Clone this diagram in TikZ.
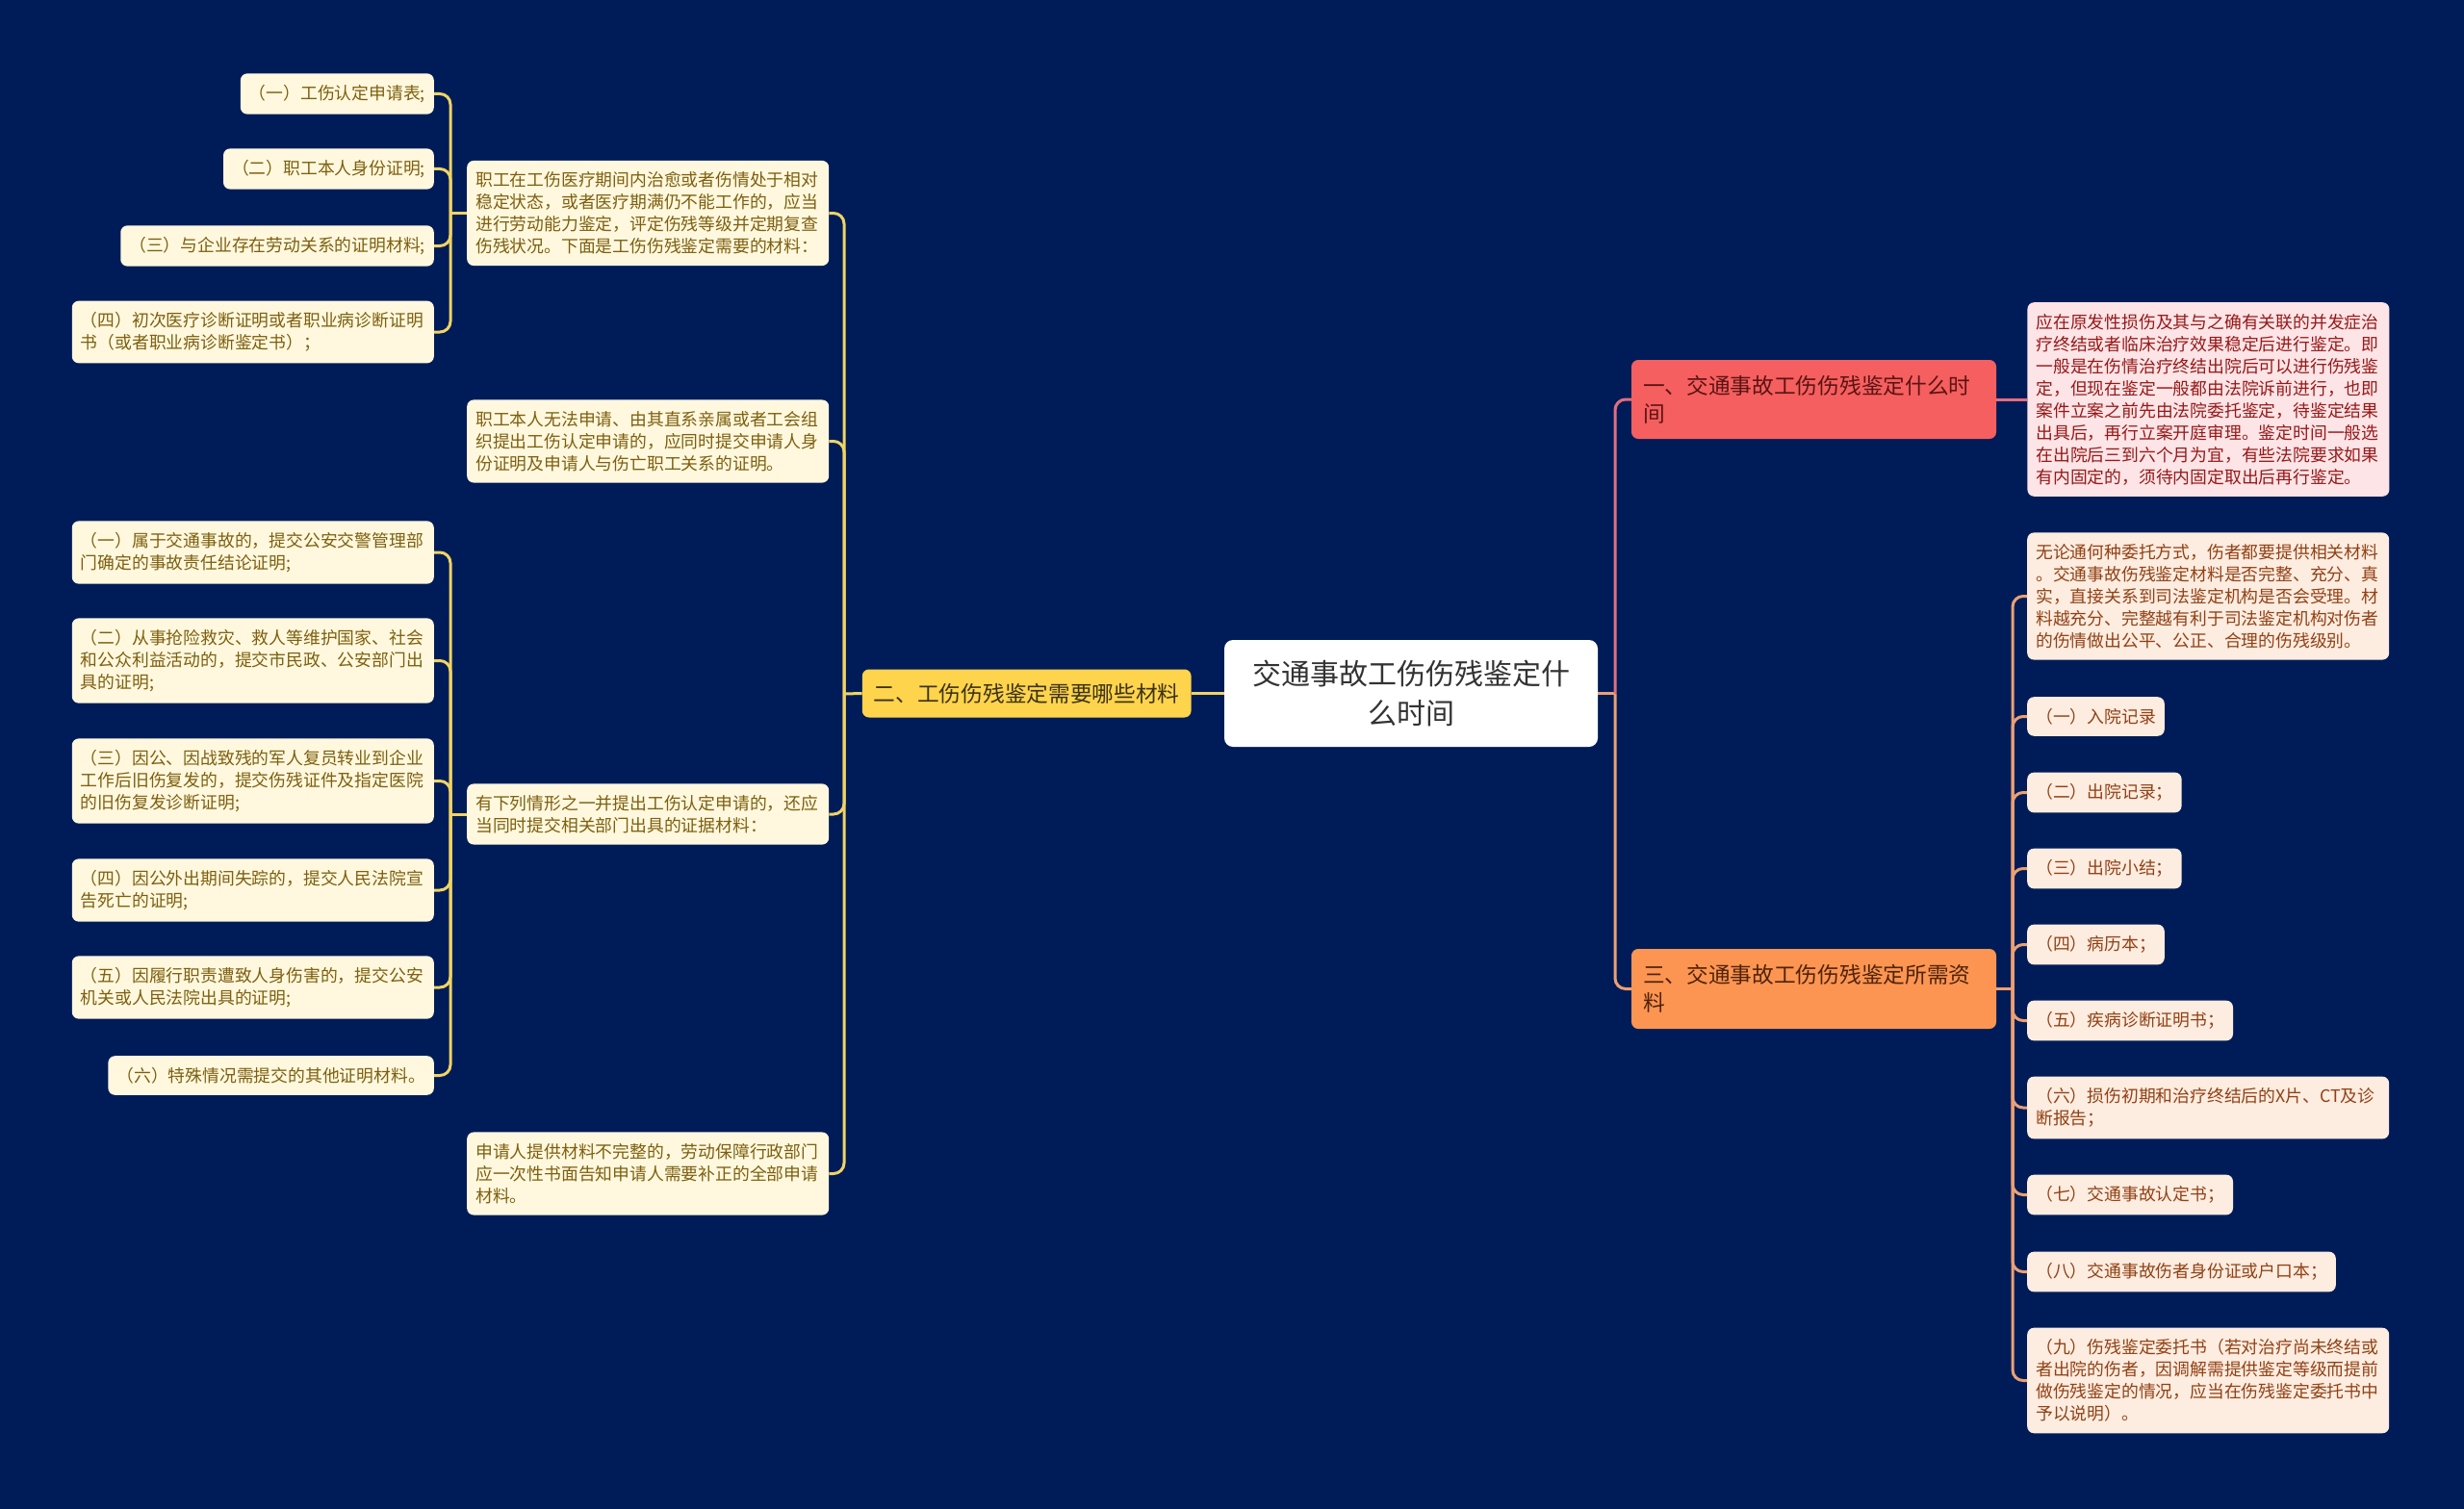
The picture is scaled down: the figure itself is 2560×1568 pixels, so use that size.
\documentclass[tikz,border=0pt]{standalone}
\usepackage{fontspec}
\newfontfamily\cjk{Noto Sans CJK SC}
\usetikzlibrary{positioning}
\definecolor{bgnavy}{RGB}{0,28,88}
\definecolor{rootink}{RGB}{51,51,51}
\definecolor{ygold}{RGB}{253,212,76}
\definecolor{ygoldink}{RGB}{60,50,20}
\definecolor{yedge}{RGB}{240,212,100}
\definecolor{ycream}{RGB}{255,248,222}
\definecolor{yink}{RGB}{125,95,15}
\definecolor{rcoral}{RGB}{246,95,95}
\definecolor{rcoralink}{RGB}{90,20,20}
\definecolor{redge}{RGB}{226,110,125}
\definecolor{rpink}{RGB}{253,228,230}
\definecolor{rink}{RGB}{150,25,25}
\definecolor{oorange}{RGB}{252,149,82}
\definecolor{oorangeink}{RGB}{80,35,10}
\definecolor{oedge}{RGB}{236,160,115}
\definecolor{opeach}{RGB}{253,236,224}
\definecolor{oink}{RGB}{145,65,20}
\tikzset{
  rootnode/.style={fill=white, text=rootink, rounded corners=9pt, align=center,
    minimum width=388pt, minimum height=111pt, inner sep=0pt,
    font=\cjk\fontsize{30}{41}\selectfont},
  branchnode/.style={rounded corners=7pt, inner xsep=12pt, inner ysep=0pt,
    font=\cjk\fontsize{22.7}{29.4}\selectfont},
  leafnode/.style={rounded corners=7pt, inner xsep=9pt, inner ysep=11.8pt,
    font=\cjk\fontsize{17.8}{23}\selectfont},
  yleaf/.style={leafnode, fill=ycream, text=yink},
  yleafw/.style={yleaf, text width=358pt, align=left},
  rleafw/.style={leafnode, fill=rpink, text=rink, text width=358pt, align=left},
  oleaf/.style={leafnode, fill=opeach, text=oink},
  oleafw/.style={oleaf, text width=358pt, align=left},
  yline/.style={draw=yedge, line width=3pt, rounded corners=11pt},
  rline/.style={draw=redge, line width=3pt, rounded corners=11pt},
  oline/.style={draw=oedge, line width=3pt, rounded corners=11pt}
}
\begin{document}
\begin{tikzpicture}[x=1pt, y=-1pt]
  \fill[bgnavy] (0,0) rectangle (2560,1568);
  \useasboundingbox (0,0) rectangle (2560,1568);

  % centre and main branches
  \node[rootnode] (root) at (1466,720.5) {交通事故工伤伤残鉴定什\\么时间};
  \node[branchnode, fill=ygold, text=ygoldink, minimum height=50pt,
        left=34pt of root] (b2) {二、工伤伤残鉴定需要哪些材料};
  \node[branchnode, fill=rcoral, text=rcoralink, text width=355pt, align=left,
        minimum height=82pt] (b1) at (1884.5,415) {一、交通事故工伤伤残鉴定什么时\\间};
  \node[branchnode, fill=oorange, text=oorangeink, text width=355pt, align=left,
        minimum height=83pt] (b3) at (1884.5,1027.5) {三、交通事故工伤伤残鉴定所需资\\料};

  % branch one
  \node[rleafw, right=32pt of b1] (r1) {应在原发性损伤及其与之确有关联的并发症治\\疗终结或者临床治疗效果稳定后进行鉴定。即\\一般是在伤情治疗终结出院后可以进行伤残鉴\\定，但现在鉴定一般都由法院诉前进行，也即\\案件立案之前先由法院委托鉴定，待鉴定结果\\出具后，再行立案开庭审理。鉴定时间一般选\\在出院后三到六个月为宜，有些法院要求如果\\有内固定的，须待内固定取出后再行鉴定。};

  % branch two, middle column
  \node[yleafw, anchor=west] (m1) at (485,221.5) {职工在工伤医疗期间内治愈或者伤情处于相对\\稳定状态，或者医疗期满仍不能工作的，应当\\进行劳动能力鉴定，评定伤残等级并定期复查\\伤残状况。下面是工伤伤残鉴定需要的材料：};
  \node[yleafw, anchor=west] (m2) at (485,458.5) {职工本人无法申请、由其直系亲属或者工会组\\织提出工伤认定申请的，应同时提交申请人身\\份证明及申请人与伤亡职工关系的证明。};
  \node[yleafw, anchor=west] (m3) at (485,846) {有下列情形之一并提出工伤认定申请的，还应\\当同时提交相关部门出具的证据材料：};
  \node[yleafw, anchor=west] (m4) at (485,1219.5) {申请人提供材料不完整的，劳动保障行政部门\\应一次性书面告知申请人需要补正的全部申请\\材料。};

  % branch two, outer column
  \node[yleaf, anchor=east] (p1) at (451,97.5) {（一）工伤认定申请表;};
  \node[yleaf, anchor=east] (p2) at (451,175.5) {（二）职工本人身份证明;};
  \node[yleaf, anchor=east] (p3) at (451,255.5) {（三）与企业存在劳动关系的证明材料;};
  \node[yleafw, anchor=east] (p4) at (451,345) {（四）初次医疗诊断证明或者职业病诊断证明\\书（或者职业病诊断鉴定书）；};

  \node[yleafw, anchor=east] (q1) at (451,574) {（一）属于交通事故的，提交公安交警管理部\\门确定的事故责任结论证明;};
  \node[yleafw, anchor=east] (q2) at (451,686.5) {（二）从事抢险救灾、救人等维护国家、社会\\和公众利益活动的，提交市民政、公安部门出\\具的证明;};
  \node[yleafw, anchor=east] (q3) at (451,811.5) {（三）因公、因战致残的军人复员转业到企业\\工作后旧伤复发的，提交伤残证件及指定医院\\的旧伤复发诊断证明;};
  \node[yleafw, anchor=east] (q4) at (451,925) {（四）因公外出期间失踪的，提交人民法院宣\\告死亡的证明;};
  \node[yleafw, anchor=east] (q5) at (451,1026) {（五）因履行职责遭致人身伤害的，提交公安\\机关或人民法院出具的证明;};
  \node[yleaf, anchor=east] (q6) at (451,1117.5) {（六）特殊情况需提交的其他证明材料。};

  % branch three
  \node[oleafw, anchor=west] (o0) at (2106,619.5) {无论通何种委托方式，伤者都要提供相关材料\\。交通事故伤残鉴定材料是否完整、充分、真\\实，直接关系到司法鉴定机构是否会受理。材\\料越充分、完整越有利于司法鉴定机构对伤者\\的伤情做出公平、公正、合理的伤残级别。};
  \foreach \i/\y/\t in {1/744.5/（一）入院记录, 2/823.5/（二）出院记录；,
      3/902.5/（三）出院小结；, 4/981.5/（四）病历本；,
      5/1060.5/（五）疾病诊断证明书；, 7/1241.5/（七）交通事故认定书；,
      8/1321.5/（八）交通事故伤者身份证或户口本；}
    \node[oleaf, anchor=west] (o\i) at (2106,\y) {\t};
  \node[oleafw, anchor=west] (o6) at (2106,1151) {（六）损伤初期和治疗终结后的X片、CT及诊\\断报告；};
  \node[oleafw, anchor=west] (o9) at (2106,1434.5) {（九）伤残鉴定委托书（若对治疗尚未终结或\\者出院的伤者，因调解需提供鉴定等级而提前\\做伤残鉴定的情况，应当在伤残鉴定委托书中\\予以说明）。};

  % junctions
  \coordinate (jy) at (877,721);
  \coordinate (jp) at (468,221.5);
  \coordinate (jq) at (468,846);
  \coordinate (jr) at (1678,720.5);
  \coordinate (jo) at (2091,1027.5);

  % connectors
  \draw[yline] (root.west) -- (b2.east);
  \draw[yline] (b2.west) -- (jy);
  \foreach \m in {m1,m2,m3,m4}
    \draw[yline] (jy) |- (\m.east);
  \draw[yline] (m1.west) -- (jp);
  \foreach \p in {p1,p2,p3,p4}
    \draw[yline] (jp) |- (\p.east);
  \draw[yline] (m3.west) -- (jq);
  \foreach \q in {q1,q2,q3,q4,q5,q6}
    \draw[yline] (jq) |- (\q.east);

  \draw[oline] (root.east) -- (jr);
  \draw[rline] (jr) |- (b1.west);
  \draw[oline] (jr) |- (b3.west);
  \draw[rline] (b1.east) -- (r1.west);
  \draw[oline] (b3.east) -- (jo);
  \foreach \i in {0,...,9}
    \draw[oline] (jo) |- (o\i.west);
\end{tikzpicture}
\end{document}
